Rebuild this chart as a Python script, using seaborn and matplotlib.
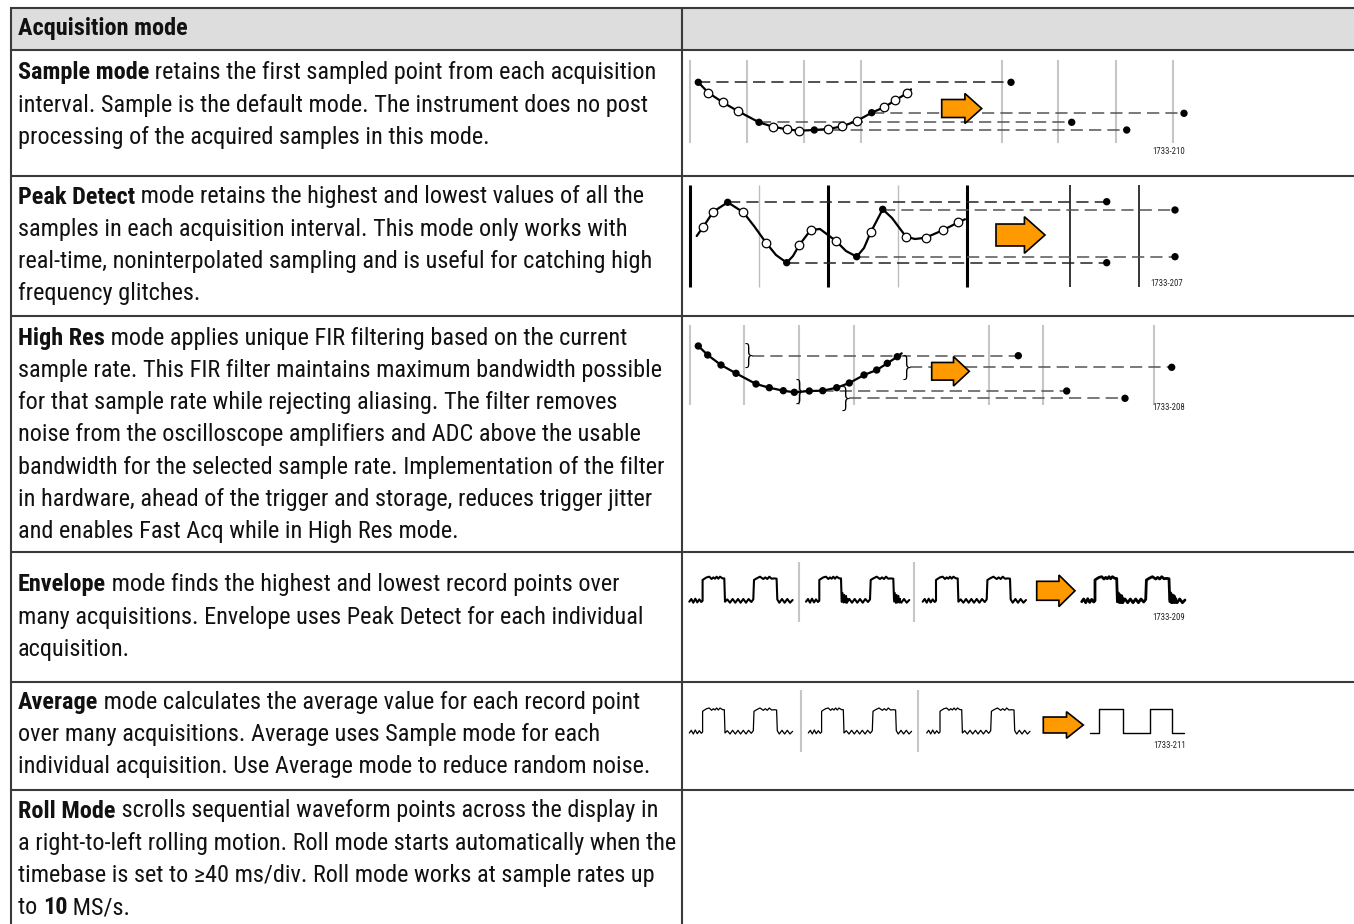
import numpy as np
import matplotlib
matplotlib.use('Agg')
import matplotlib.pyplot as plt
import matplotlib.font_manager as fm
from matplotlib.patches import Rectangle
import seaborn as sns

sns.set_theme(style="white")

# pick a narrow sans face if one is installed, else plain Liberation Sans
entries = fm.fontManager.ttflist
BODY_FONT, BODY_STRETCH = 'Liberation Sans', 'normal'
for name in ['Liberation Sans Narrow', 'Arial Narrow', 'Roboto Condensed', 'Open Sans Condensed',
             'Noto Sans', 'DejaVu Sans', 'Open Sans', 'Roboto', 'Lato', 'Inter']:
    hits = [f for f in entries if f.name == name]
    narrow = [f for f in hits if str(f.stretch) in ('condensed', 'semi-condensed', 'extra-condensed')]
    if hits and ('Narrow' in name or 'Condensed' in name):
        BODY_FONT, BODY_STRETCH = name, 'normal'
        break
    if narrow:
        BODY_FONT, BODY_STRETCH = name, str(narrow[0].stretch)
        break
plt.rcParams['font.family'] = [BODY_FONT, 'DejaVu Sans']

# ---------------- table text ----------------
header = "Acquisition mode"
B, N = True, False
rows_text = [
    [[("Sample mode", B), (" retains the first sampled point from each acquisition", N)],
     [("interval. Sample is the default mode. The instrument does no post", N)],
     [("processing of the acquired samples in this mode.", N)]],
    [[("Peak Detect", B), (" mode retains the highest and lowest values of all the", N)],
     [("samples in each acquisition interval. This mode only works with", N)],
     [("real-time, noninterpolated sampling and is useful for catching high", N)],
     [("frequency glitches.", N)]],
    [[("High Res", B), (" mode applies unique FIR filtering based on the current", N)],
     [("sample rate. This FIR filter maintains maximum bandwidth possible", N)],
     [("for that sample rate while rejecting aliasing. The filter removes", N)],
     [("noise from the oscilloscope amplifiers and ADC above the usable", N)],
     [("bandwidth for the selected sample rate. Implementation of the filter", N)],
     [("in hardware, ahead of the trigger and storage, reduces trigger jitter", N)],
     [("and enables Fast Acq while in High Res mode.", N)]],
    [[("Envelope", B), (" mode finds the highest and lowest record points over", N)],
     [("many acquisitions. Envelope uses Peak Detect for each individual", N)],
     [("acquisition.", N)]],
    [[("Average", B), (" mode calculates the average value for each record point", N)],
     [("over many acquisitions. Average uses Sample mode for each", N)],
     [("individual acquisition. Use Average mode to reduce random noise.", N)]],
    [[("Roll Mode", B), (" scrolls sequential waveform points across the display in", N)],
     [("a right-to-left rolling motion. Roll mode starts automatically when the", N)],
     [("timebase is set to \u226540 ms/div. Roll mode works at sample rates up", N)],
     [("to ", N), ("10", B), (" MS/s.", N)]],
]
# (row, line, right end of that line in the reference) used to size the font
calib_lines = [(0, 0, 663), (0, 1, 655), (1, 2, 653), (2, 1, 665), (2, 4, 662),
               (4, 2, 664), (5, 1, 673)]
figure_ids = ["1733-210", "1733-207", "1733-208", "1733-209", "1733-211"]

# ---------------- diagram data (pixel units) ----------------
# Sample mode
sample_grid_x = [690, 746.7, 804, 861, 1001.7, 1058, 1116, 1173]
sample_curve_x = [698.3, 708.3, 722.7, 737.7, 759, 772.7, 786.7, 799, 814.3, 828.3, 842.3,
                  856.7, 871.7, 884, 895.3, 906.7, 911]
sample_curve_y = [82.3, 92.7, 102.3, 111, 122.3, 126.7, 129.3, 130.7, 130, 129, 126.3,
                  121, 112.7, 107.3, 100.3, 93.3, 89.3]
sample_kept = [0, 4, 8, 12]
sample_hold_x0 = [698.3, 871.7, 759, 814.3]
sample_hold_x1 = [1011, 1184, 1071.7, 1126.7]
sample_hold_y = [82.3, 113.3, 122.3, 130]

# Peak detect
peak_grid_x = [690, 759, 828.3, 898.3, 967.3, 1070, 1139.3]
peak_grid_kind = ["major", "minor", "major", "minor", "major", "out", "out"]
peak_curve_x = [696.7, 703.3, 713.3, 727.7, 743.3, 754, 766, 776, 786.7, 793, 799.3, 810.7,
                820, 836, 846, 856.7, 864, 870.7, 882.7, 892, 906, 915, 925.7, 943.3, 958.3, 965]
peak_curve_y = [236, 226.7, 211.7, 202.3, 212.3, 226, 242.7, 255, 262.7, 256, 245, 230,
                229, 241, 251, 256.7, 248, 232.3, 209.3, 218, 236.7, 239, 237.7, 230, 222.3, 219.3]
peak_open = [1, 2, 4, 6, 10, 11, 13, 17, 20, 22, 23, 24]
peak_kept = [3, 8, 15, 18]
peak_hold_x0 = [727.7, 882.7, 786.7, 856.7]
peak_hold_x1 = [1106.7, 1175, 1106.7, 1175]
peak_hold_y = [201.7, 210, 262.7, 256.7]

# High res
hires_grid_x = [690, 744.3, 799, 854, 989.3, 1043.3, 1154]
hires_curve_x = [698.3, 707.7, 721, 736, 756, 769.3, 783.3, 794.3, 809.3, 822.7, 836.7,
                 849.3, 864, 876.7, 887.3, 897.3, 901.7]
hires_curve_y = [346, 355, 365, 373.3, 384, 387.7, 390.7, 392.3, 391, 390.7, 387.7,
                 383, 375, 370, 363.3, 356.7, 353.3]
hires_hold_x0 = [752, 910, 803, 849]
hires_hold_x1 = [1018.3, 1171.7, 1066.7, 1125]
hires_hold_y = [355.7, 367.3, 391, 398.3]
hires_brace_x = [749, 907, 800, 846]

# Envelope / average: one acquisition (local px, y up from the low level)
wave_x = [0, 2, 4, 6, 8, 10, 12, 13.3, 13.3, 14.7, 17.3, 20, 22.3, 24, 25.7, 27.3, 29, 30.7,
          33.3, 35, 35.7, 38, 40.7, 43.3, 46, 48.7, 51.3, 54, 56.7, 59.3, 62, 64, 64.7, 67.3,
          70.7, 74, 76, 78, 80, 82.3, 85, 87.3, 88, 90, 92.7, 95.3, 98, 100.7, 103.3]
wave_y = [0, 2.7, -1, 3, -0.7, 2.3, -0.3, 1, 21.7, 22.7, 24.3, 25, 22.7, 24.3, 23, 25, 23, 25,
          23.3, 23.3, 0, 2.3, -1, 2.7, -1, 2.7, -1, 2.7, -1, 2.7, -0.3, 2.3, 21.7, 23.3,
          25, 22.7, 24.3, 22.7, 25, 23, 23.3, 23, 2.3, -1, 2.7, -1, 2.7, -1, 1.7]
glitch_x = [35.7, 36.6, 37.5, 38.4, 39.3, 40.2, 41.1, 42]
glitch_y = [0, 9, -1, 7, -1, 6, -1, 3]
glitch_at = [0, 52.3]
clean_x = [0, 9.3, 9.3, 33.3, 33.3, 60, 60, 81.7, 81.7, 94]
clean_y = [0, 0, 24.3, 24.3, 0, 0, 24.3, 24.3, 0, 0]

env_panels_x = [689.3, 806, 922.7]
env_result_x = 1081.7
env_low = 601.7
env_sep_x = [799, 914.3]
avg_panels_x = [689.3, 808.3, 926.7]
avg_result_x = 1090
avg_low = 733
avg_sep_x = [800.7, 918.3]

# arrows: left x, centre y, length, half height
arrow_x = [941.7, 996, 931.7, 1036.7, 1043.3]
arrow_y = [108.5, 235, 371.3, 590.8, 725]
arrow_len = [40, 49, 37.6, 38.3, 40]
arrow_half = [15, 18.3, 14.7, 15.8, 13.3]
arrow_shape_x = [0, 0.58, 0.58, 1, 0.58, 0.58, 0]
arrow_shape_y = [-0.6, -0.6, -1, 0, 1, 0.6, 0.6]
id_pos_x = [1169, 1167, 1169, 1169, 1170]
id_pos_y = [152, 283, 408, 617, 745]

# ---------------- layout ----------------
W, H = 1354, 924
left, top, split = 10, 8, 682
row_edges = [8, 50, 176, 316, 552, 682, 790]
first_line = [73, 197, 338, 585, 702, 811]
line_gap = 32.3
text_x = 18
EDGE = '#3a3a3a'
TXT = '#111111'

fig = plt.figure(figsize=(W / 100, H / 100), dpi=100)
ax = fig.add_axes([0, 0, 1, 1])
ax.set_xlim(0, W)
ax.set_ylim(H, 0)
ax.axis('off')
renderer = fig.canvas.get_renderer()


def draw_segments(x, y, segments, size):
    made = []
    for s, bold in segments:
        t = ax.text(x, y, s, fontsize=size, fontweight='bold' if bold else 'normal',
                    fontstretch=BODY_STRETCH, ha='left', va='center', color=TXT)
        x += t.get_window_extent(renderer).width
        made.append(t)
    return x, made


# size the body font so the lines are as wide as in the reference,
# but keep the widest line inside its cell
ratios, caps = [], []
for r, i, target in calib_lines:
    end, tmp = draw_segments(text_x, 0, rows_text[r][i], 10)
    for t in tmp:
        t.remove()
    ratios.append((target - text_x) / (end - text_x))
    caps.append((674 - text_x) / (end - text_x))
BODY_SIZE = 10 * min(np.median(ratios), min(caps))
SMALL_SIZE = BODY_SIZE * 0.36

ax.add_patch(Rectangle((left, top), W - left, row_edges[1] - top, facecolor='#dddddd',
                       edgecolor='none', zorder=0))
ax.hlines(row_edges, left, W, color=EDGE, lw=1.5, zorder=1)
ax.vlines([left + 0.5, split], top, H, color=EDGE, lw=1.5, zorder=1)

draw_segments(text_x, 29, [(header, B)], BODY_SIZE)
for r, lines in enumerate(rows_text):
    for i, segs in enumerate(lines):
        draw_segments(text_x, first_line[r] + i * line_gap, segs, BODY_SIZE)


def holds(x0s, x1s, ys, colors):
    for x0, x1, y, c in zip(x0s, x1s, ys, colors):
        ax.plot([x0, x1], [y, y], color=c, lw=1.1, dashes=(8, 4), zorder=2)
    sns.scatterplot(x=x1s, y=ys, color='black', s=28, edgecolor='none', ax=ax, zorder=5)


def curve(xs, ys, lw=1.6):
    sns.lineplot(x=xs, y=ys, sort=False, estimator=None, color='black', lw=lw, ax=ax, zorder=3)


def open_pts(xs, ys):
    sns.scatterplot(x=xs, y=ys, color='white', edgecolor='black', linewidth=0.9, s=38,
                    ax=ax, zorder=4)


# Sample mode
ax.vlines(sample_grid_x, 60, 143, color='#c6c6c6', lw=1.5, zorder=1)
holds(sample_hold_x0, sample_hold_x1, sample_hold_y, ['#222222', '#555555', '#555555', '#555555'])
curve(sample_curve_x, sample_curve_y)
sx, sy = np.array(sample_curve_x), np.array(sample_curve_y)
opn = [i for i in range(len(sx) - 1) if i not in sample_kept]
open_pts(sx[opn], sy[opn])
sns.scatterplot(x=sx[sample_kept], y=sy[sample_kept], color='black', s=28, edgecolor='none', ax=ax, zorder=5)

# Peak detect
for gx, kind in zip(peak_grid_x, peak_grid_kind):
    c, w = {'major': ('black', 2.2), 'minor': ('#bdbdbd', 1.0), 'out': ('black', 1.1)}[kind]
    ax.vlines(gx, 185, 287, color=c, lw=w, zorder=1)
holds(peak_hold_x0, peak_hold_x1, peak_hold_y, ['#222222', '#555555', '#222222', '#555555'])
curve(peak_curve_x, peak_curve_y)
px, py = np.array(peak_curve_x), np.array(peak_curve_y)
open_pts(px[peak_open], py[peak_open])
sns.scatterplot(x=px[peak_kept], y=py[peak_kept], color='black', s=28, edgecolor='none', ax=ax, zorder=5)

# High res
ax.vlines(hires_grid_x, 325, 405, color='#c6c6c6', lw=1.5, zorder=1)
holds(hires_hold_x0, hires_hold_x1, hires_hold_y, ['#555555'] * 4)
curve(hires_curve_x, hires_curve_y)
sns.scatterplot(x=hires_curve_x[:-1], y=hires_curve_y[:-1], color='black', s=28, edgecolor='none',
                ax=ax, zorder=5)
for bx, by in zip(hires_brace_x, hires_hold_y):
    ax.text(bx, by, "}", fontsize=19, family='DejaVu Sans', fontweight='light',
            ha='center', va='center', color='black', zorder=4)

# Envelope
wx, wy = np.array(wave_x), np.array(wave_y)
gx_, gy_ = np.array(glitch_x), np.array(glitch_y)
ax.vlines(env_sep_x, 562, 622, color='#c6c6c6', lw=1.5, zorder=1)
for k, x0 in enumerate(env_panels_x + [env_result_x]):
    curve(x0 + wx, env_low - wy, lw=1.5 if k < 3 else 2.0)
    if k in (1, 3):
        for g in glitch_at:
            curve(x0 + g + gx_, env_low - gy_, lw=1.2 if k == 1 else 1.8)

# Average
ax.vlines(avg_sep_x, 690, 752, color='#c6c6c6', lw=1.5, zorder=1)
for x0 in avg_panels_x:
    curve(x0 + wx, avg_low - wy, lw=0.9)
curve(avg_result_x + np.array(clean_x), avg_low - np.array(clean_y), lw=1.0)

# arrows and figure ids
for x0, yc, L, h in zip(arrow_x, arrow_y, arrow_len, arrow_half):
    ax.fill(x0 + L * np.array(arrow_shape_x), yc + h * np.array(arrow_shape_y),
            facecolor='#ff9900', edgecolor='black', lw=1.2, zorder=6)
for s, x, y in zip(figure_ids, id_pos_x, id_pos_y):
    ax.text(x, y, s, fontsize=SMALL_SIZE, fontstretch=BODY_STRETCH, ha='center', va='center',
            color='#222222')

fig.savefig('out.png', dpi=100, facecolor='white')
